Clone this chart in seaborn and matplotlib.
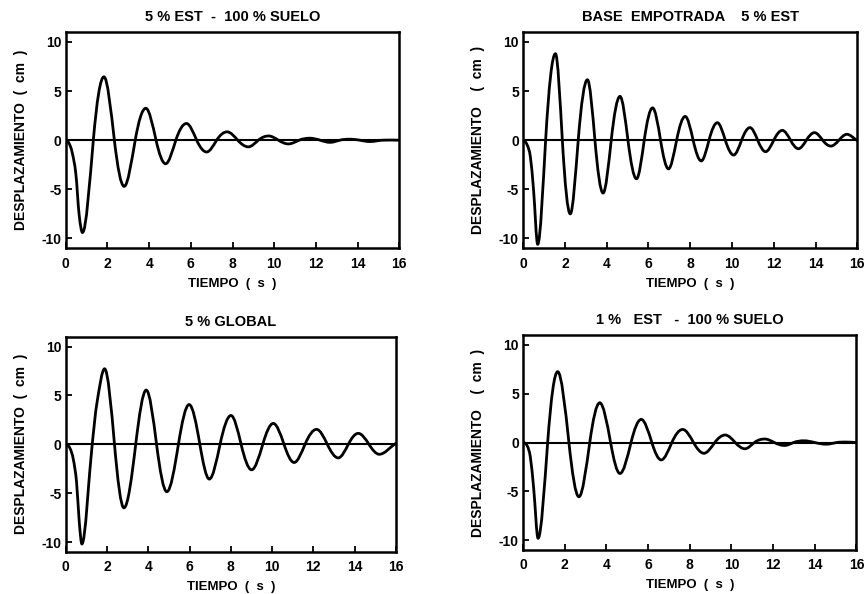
import numpy as np
import matplotlib
matplotlib.use("Agg")
import matplotlib.pyplot as plt
from matplotlib.path import Path
from matplotlib.patches import PathPatch
import seaborn as sns

# ---------------- data ----------------
titles = ["5 % EST  -  100 % SUELO",
          "BASE  EMPOTRADA    5 % EST",
          "5 % GLOBAL",
          "1 %   EST   -  100 % SUELO"]
ylabels = ["DESPLAZAMIENTO  (  cm  )",
           "DESPLAZAMIENTO    (  cm  )",
           "DESPLAZAMIENTO  (  cm  )",
           "DESPLAZAMIENTO    (  cm  )"]
xlabel = "TIEMPO  (  s  )"
xticks = [0, 2, 4, 6, 8, 10, 12, 14, 16]
yticks = [-10, -5, 0, 5, 10]

# key points (time s, displacement cm): start, extrema, zero crossings, shoulders
t_p1 = [0, 0.15, 0.3, 0.48, 0.64, 0.8, 1.32, 1.83, 2.33, 2.8, 3.33, 3.84, 4.33,
        4.79, 5.28, 5.79, 6.28, 6.76, 7.24, 7.74, 8.25, 8.76, 9.24, 9.73, 10.2,
        10.68, 11.2, 11.7, 12.2, 12.68, 13.15, 13.6, 14.1, 14.6, 15.2, 16.0]
y_p1 = [0, -0.3, -1.2, -3.4, -7.6, -9.4, 0, 6.45, 0, -4.7, 0, 3.25, 0,
        -2.4, 0, 1.7, 0, -1.2, 0, 0.85, 0, -0.68, 0, 0.43, 0,
        -0.38, 0, 0.2, 0, -0.22, 0, 0.1, 0, -0.14, 0, 0]

t_p2 = [0, 0.2, 0.35, 0.5, 0.7, 1.08, 1.55, 1.88, 2.26, 2.64, 3.08, 3.44, 3.83,
        4.22, 4.64, 5.02, 5.43, 5.8, 6.2, 6.58, 6.96, 7.35, 7.76, 8.14, 8.53,
        8.9, 9.3, 9.68, 10.08, 10.46, 10.86, 11.23, 11.61, 12.0, 12.41, 12.8,
        13.18, 13.56, 13.95, 14.34, 14.73, 15.12, 15.5, 16.0]
y_p2 = [0, -0.5, -1.7, -5.0, -10.6, 0, 8.8, 0, -7.5, 0, 6.15, 0, -5.38,
        0, 4.46, 0, -3.93, 0, 3.29, 0, -2.92, 0, 2.42, 0, -2.11,
        0, 1.78, 0, -1.51, 0, 1.28, 0, -1.17, 0, 1.0, 0,
        -0.87, 0, 0.77, 0, -0.6, 0, 0.6, -0.05]

t_p3 = [0, 0.2, 0.36, 0.52, 0.65, 0.78, 1.28, 1.5, 1.88, 2.36, 2.82, 3.39, 3.9,
        4.4, 4.9, 5.46, 5.98, 6.5, 6.96, 7.48, 8.01, 8.5, 9.01, 9.55, 10.06,
        10.58, 11.07, 11.6, 12.16, 12.68, 13.21, 13.7, 14.18, 14.7, 15.2, 16.0]
y_p3 = [0, -0.4, -1.5, -3.85, -7.9, -10.2, 0, 4.1, 7.73, 0, -6.5, 0, 5.55,
        0, -4.85, 0, 4.07, 0, -3.56, 0, 2.95, 0, -2.61, 0, 2.14,
        0, -1.86, 0, 1.53, 0, -1.39, 0, 1.12, 0, -1.02, 0.1]

t_p4 = [0, 0.2, 0.35, 0.51, 0.72, 1.18, 1.66, 2.2, 2.68, 3.2, 3.68, 4.2, 4.65,
        5.18, 5.67, 6.18, 6.63, 7.14, 7.66, 8.18, 8.68, 9.2, 9.7, 10.18, 10.65,
        11.1, 11.6, 12.06, 12.55, 12.98, 13.47, 14.0, 14.55, 15.05, 15.5, 16.0]
y_p4 = [0, -0.35, -1.5, -4.7, -9.8, 0, 7.25, 0, -5.55, 0, 4.07, 0, -3.17,
        0, 2.37, 0, -1.78, 0, 1.34, 0, -1.1, 0, 0.77, 0, -0.64,
        0, 0.36, 0, -0.3, 0, 0.18, 0, -0.17, 0, 0.05, 0]

series = [(t_p1, y_p1), (t_p2, y_p2), (t_p3, y_p3), (t_p4, y_p4)]

# ---------------- styling ----------------
sns.set_theme(style="ticks")
plt.rcParams["font.family"] = ["Liberation Sans", "DejaVu Sans"]
plt.rcParams["axes.unicode_minus"] = False


def smooth_curve(t, y):
    """Smooth Bezier path passing through the read key points."""
    t = np.asarray(t, float)
    y = np.asarray(y, float)
    n = len(t)
    ext = np.zeros(n, bool)
    for i in range(1, n - 1):
        ext[i] = (y[i] - y[i - 1]) * (y[i + 1] - y[i]) < 0
    m = np.zeros(n)
    for i in range(1, n - 1):
        if ext[i]:
            continue
        sec = (y[i + 1] - y[i - 1]) / (t[i + 1] - t[i - 1])
        if y[i] == 0 and ext[i - 1] and ext[i + 1]:
            sec *= np.pi / 2
        m[i] = sec
    m[-1] = (y[-1] - y[-2]) / (t[-1] - t[-2])
    verts = [(t[0], y[0])]
    codes = [Path.MOVETO]
    for i in range(n - 1):
        h = t[i + 1] - t[i]
        verts += [(t[i] + h / 3, y[i] + m[i] * h / 3),
                  (t[i + 1] - h / 3, y[i + 1] - m[i + 1] * h / 3),
                  (t[i + 1], y[i + 1])]
        codes += [Path.CURVE4] * 3
    return Path(verts, codes)


fig = plt.figure(figsize=(8.66, 5.94), dpi=100)
fig.patch.set_facecolor("white")
positions = [[0.076, 0.582, 0.385, 0.364],
             [0.604, 0.582, 0.386, 0.364],
             [0.076, 0.071, 0.381, 0.362],
             [0.604, 0.074, 0.385, 0.362]]

for k, (pos, (tt, yy)) in enumerate(zip(positions, series)):
    ax = fig.add_axes(pos)
    ax.set_facecolor("white")
    ax.axhline(0, color="black", lw=1.5, zorder=2)
    ax.add_patch(PathPatch(smooth_curve(tt, yy), facecolor="none",
                           edgecolor="black", lw=2.0, zorder=3,
                           capstyle="round", joinstyle="round"))
    ax.set_xlim(0, 16)
    ax.set_ylim(-11, 11)
    ax.set_xticks(xticks)
    ax.set_yticks(yticks)
    ax.set_xticklabels([str(v) for v in xticks], fontweight="bold")
    ax.set_yticklabels([str(v) for v in yticks], fontweight="bold")
    ax.tick_params(axis="x", direction="in", length=4, width=1.3,
                   labelsize=10, pad=6, colors="black")
    ax.tick_params(axis="y", direction="in", length=4, width=1.3,
                   labelsize=10, pad=3, colors="black")
    for s in ax.spines.values():
        s.set_linewidth(1.8)
        s.set_color("black")
    ax.set_title(titles[k], fontsize=10.5, pad=8, color="black",
                 fontweight="bold")
    ax.set_xlabel(xlabel, fontsize=9.5, labelpad=5, color="black",
                  fontweight="bold")
    ax.set_ylabel(ylabels[k], fontsize=10, labelpad=10, color="black",
                  fontweight="bold")
    ax.grid(False)

fig.savefig("out.png", dpi=100, facecolor="white")
